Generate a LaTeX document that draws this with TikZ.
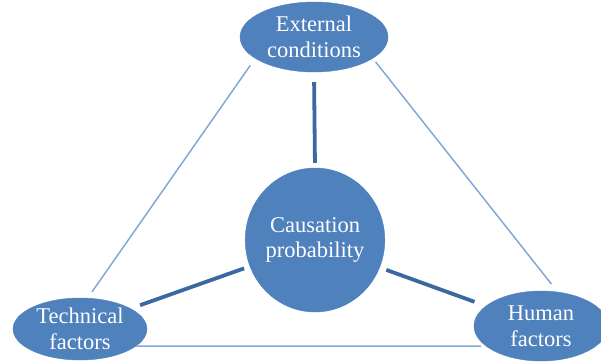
\documentclass[tikz,border=0pt]{standalone}
\usepackage{fontspec}
\setmainfont{Liberation Serif}
\usetikzlibrary{shapes.geometric}
\definecolor{nodeblue}{RGB}{79,129,189}
\definecolor{thickblue}{RGB}{58,104,160}
\definecolor{thinblue}{RGB}{132,168,214}
\tikzset{
  blob/.style={ellipse, fill=nodeblue, draw=nodeblue, inner sep=0pt, text=white,
    align=center, font=\fontsize{22.5}{25.5}\selectfont},
  thickline/.style={draw=thickblue, line width=3.8pt},
  thinline/.style={draw=thinblue, line width=1.5pt}
}
\begin{document}
\begin{tikzpicture}[x=1pt,y=-1pt]
\useasboundingbox (0,0) rectangle (601,362);
\clip (0,0) rectangle (601,362);
\node[blob, minimum width=148pt, minimum height=70pt] (ext) at (314,37) {External\\conditions};
\node[blob, minimum width=136pt, minimum height=144pt] (circ) at (315,240) {Causation\\probability};
\node[blob, minimum width=134pt, minimum height=62pt] (tech) at (80,329) {Technical\\factors};
\node[blob, minimum width=134pt, minimum height=70pt] (human) at (541,326) {Human\\factors};
% thin outer triangle
\draw[thinline, shorten <=8.5pt, shorten >=7.5pt] (ext.200) -- (tech.76);
\draw[thinline, shorten <=4.4pt, shorten >=10pt] (ext.340) -- (human.64);
\draw[thinline, shorten >=5pt] (tech.343) -- (human.200);
% thick spokes
\draw[thickline, shorten <=10pt, shorten >=5pt] (ext.south) -- (circ.north);
\draw[thickline, shorten <=10pt, shorten >=6pt] (tech.22) -- (circ.202);
\draw[thickline, shorten <=7pt, shorten >=12pt] (circ.337) -- (human.160);
\end{tikzpicture}
\end{document}
